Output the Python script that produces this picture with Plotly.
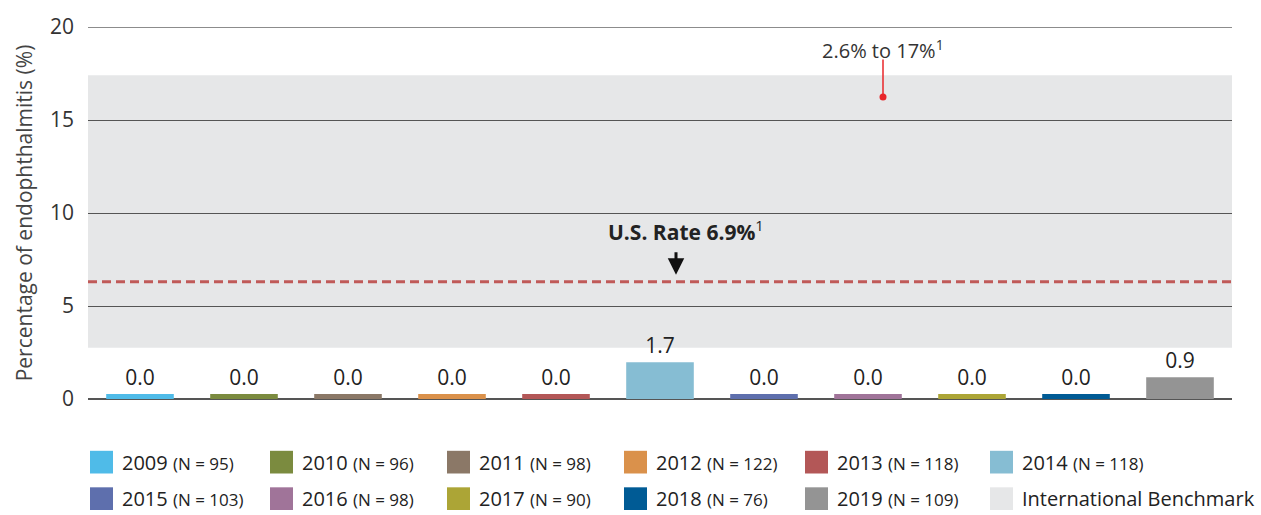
import plotly.graph_objects as go

years = ["2009", "2010", "2011", "2012", "2013", "2014", "2015", "2016", "2017", "2018", "2019"]
sample_sizes = [95, 96, 98, 122, 118, 118, 103, 98, 90, 76, 109]
rates = [0.0, 0.0, 0.0, 0.0, 0.0, 1.7, 0.0, 0.0, 0.0, 0.0, 0.9]
colors = ["#4fbbe8", "#7b8b3f", "#8b7867", "#da914b", "#b35757", "#86bdd3",
          "#5e6fad", "#a07499", "#aca536", "#005b95", "#949494"]

benchmark_low, benchmark_high = 2.75, 17.4   # international benchmark band as drawn
us_rate_line = 6.3                            # dashed U.S. rate line as drawn
bar_stub = 0.27                               # small stub so zero bars stay visible

FONT = "Open Sans"
W, H = 1261, 515
plot_left, plot_right, plot_top, plot_bottom = 88, 1232, 22, 399
plot_w, plot_h = plot_right - plot_left, plot_bottom - plot_top

fig = go.Figure()

fig.add_trace(go.Bar(
    x=years,
    y=[r + bar_stub for r in rates],
    marker=dict(color=colors, line=dict(width=0)),
    text=[f"{r:.1f}" for r in rates],
    textposition="outside",
    textfont=dict(size=21, color="#222222", family=FONT),
    cliponaxis=False,
    width=0.65,
    showlegend=False,
    hoverinfo="skip",
))

shapes = []
# International benchmark band
shapes.append(dict(type="rect", xref="x domain", yref="y", x0=0, x1=1,
                   y0=benchmark_low, y1=benchmark_high,
                   fillcolor="#e6e7e8", line=dict(width=0), layer="below"))
# top gridline (plotly skips it at the range edge)
shapes.append(dict(type="line", xref="x domain", yref="y", x0=0, x1=1, y0=20, y1=20,
                   line=dict(color="#666666", width=1.5)))
# U.S. rate dashed line
shapes.append(dict(type="line", xref="x domain", yref="y", x0=0, x1=1,
                   y0=us_rate_line, y1=us_rate_line,
                   line=dict(color="#c05a58", width=3, dash="9px,5px")))
# red pointer for the benchmark range
px_mark = (883 - plot_left) / plot_w
shapes.append(dict(type="line", xref="paper", yref="y", x0=px_mark, x1=px_mark,
                   y0=16.23, y1=18.25, line=dict(color="#e8262a", width=1.5)))
shapes.append(dict(type="circle", xref="paper", yref="y", xsizemode="pixel", ysizemode="pixel",
                   xanchor=px_mark, yanchor=16.23, x0=-3.5, x1=3.5, y0=-3.5, y1=3.5,
                   fillcolor="#e8262a", line=dict(width=0)))

annotations = [
    dict(text="2.6% to 17%<sup>1</sup>", xref="paper", yref="y", x=px_mark, y=18.8,
         xanchor="center", yanchor="middle", showarrow=False,
         font=dict(size=20, color="#333333", family=FONT)),
    dict(text="<b>U.S. Rate 6.9%</b><sup>1</sup>", xref="paper", yref="y",
         x=(686 - plot_left) / plot_w, y=9.07, xanchor="center", showarrow=False,
         font=dict(size=21, color="#222222", family=FONT)),
    dict(text="", xref="paper", yref="y", x=(676 - plot_left) / plot_w, y=6.68, ax=0, ay=-24,
         showarrow=True, arrowhead=2, arrowsize=1.1, arrowwidth=3, arrowcolor="#111111"),
]

# Manual legend: two rows of six entries
col_x = [90, 270, 447, 624, 805, 990]
row_y = [463, 500]
sq = 23
legend_items = [(y, n, c) for y, n, c in zip(years, sample_sizes, colors)]
legend_items.append(("International Benchmark", None, "#e6e7e8"))
for i, (yr, n, col) in enumerate(legend_items):
    r, c = divmod(i, 6)
    px, py = col_x[c], row_y[r]
    shapes.append(dict(type="rect", xref="paper", yref="paper",
                       x0=(px - plot_left) / plot_w, x1=(px + sq - plot_left) / plot_w,
                       y0=(plot_bottom - (py + sq / 2)) / plot_h,
                       y1=(plot_bottom - (py - sq / 2)) / plot_h,
                       fillcolor=col, line=dict(width=0)))
    if n is None:
        label = yr
    else:
        label = f"{yr} <span style='font-size:17px'>(N = {n})</span>"
    annotations.append(dict(text=label, xref="paper", yref="paper",
                            x=(px + 30 - plot_left) / plot_w, y=(plot_bottom - py) / plot_h,
                            xanchor="left", yanchor="middle", showarrow=False,
                            font=dict(size=20, color="#222222", family=FONT)))

fig.update_layout(
    width=W, height=H,
    margin=dict(l=plot_left, r=W - plot_right, t=plot_top, b=H - plot_bottom),
    paper_bgcolor="white",
    plot_bgcolor="rgba(0,0,0,0)",
    font=dict(family=FONT, color="#333333"),
    shapes=shapes,
    annotations=annotations,
    xaxis=dict(showticklabels=False, showgrid=False, zeroline=False, ticks=""),
    yaxis=dict(range=[0, 20], tickvals=[0, 5, 10, 15, 20], showgrid=True,
               gridcolor="#555555", gridwidth=1, zeroline=True, zerolinecolor="#555555",
               zerolinewidth=1.5, tickfont=dict(size=21, color="#333333", family=FONT),
               ticks="", ticklabelstandoff=13,
               title=dict(text="Percentage of endophthalmitis (%)", standoff=11,
                          font=dict(size=21, color="#444444", family=FONT))),
)

fig.write_html("out.html", config={"displayModeBar": False},
               post_script="document.body.style.margin='0';")
